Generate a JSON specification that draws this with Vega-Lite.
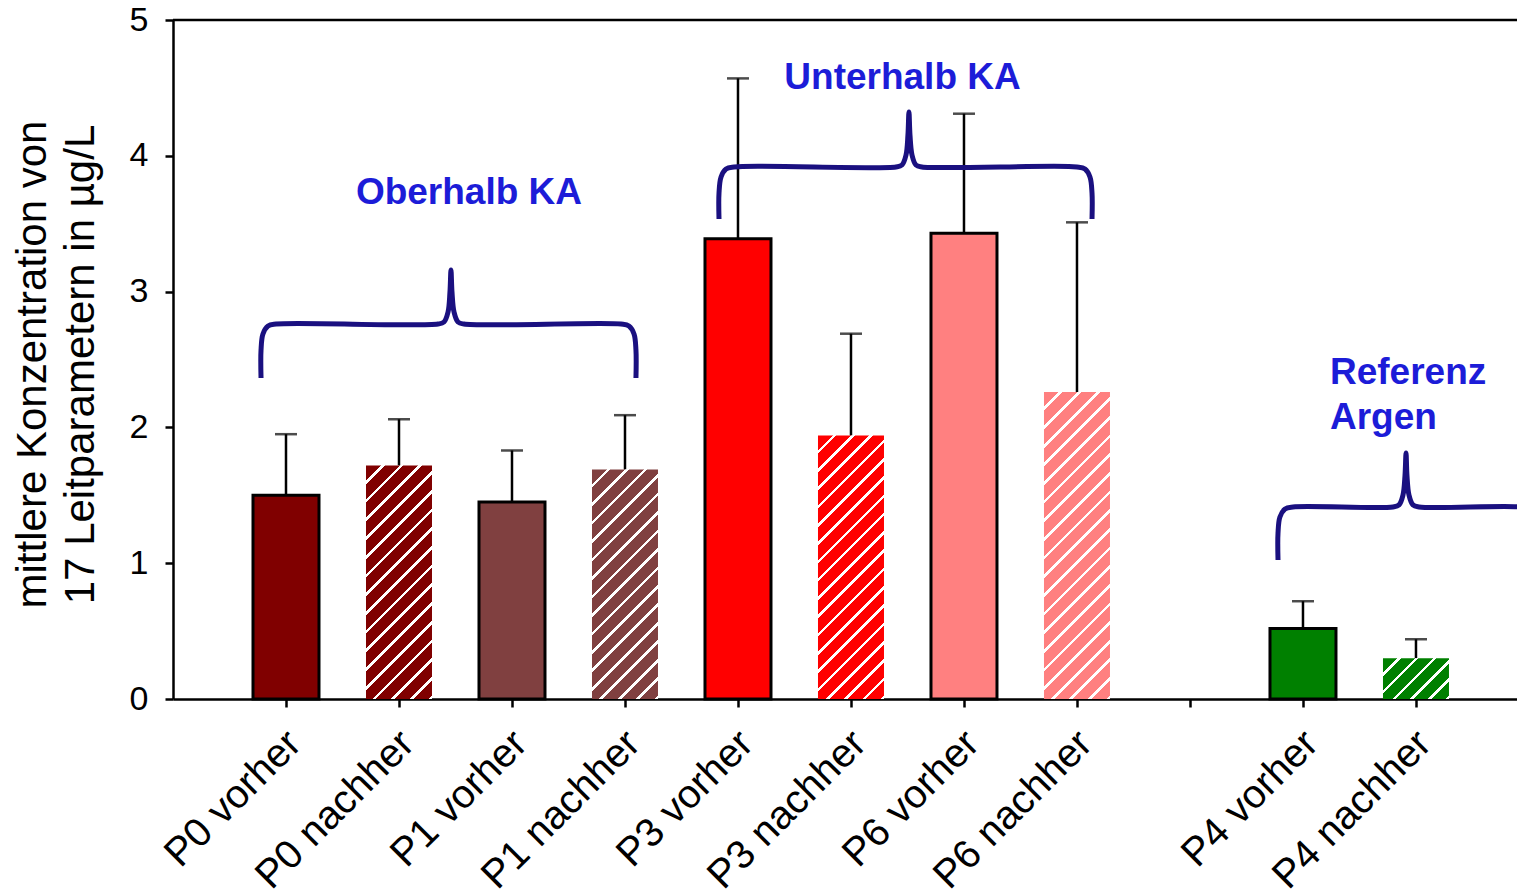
{
  "$schema": "https://vega.github.io/schema/vega-lite/v6.json",
  "width": 1344,
  "height": 679,
  "autosize": "none",
  "padding": {"left": 173, "top": 20, "right": 0, "bottom": 197},
  "background": "white",
  "config": {
    "view": {"stroke": null},
    "font": "Liberation Sans",
    "scale": {"continuousPadding": 0},
    "axis": {"grid": false, "domainColor": "black", "tickColor": "black", "labelColor": "black", "titleColor": "black", "domainWidth": 2.5, "tickWidth": 2.5, "tickSize": 8}
  },
  "datasets": {
    "bars": [
      {"cat": "P0 vorher", "slot": 1, "site": "P0", "phase": "vorher", "value": 1.5, "err": 1.95},
      {"cat": "P0 nachher", "slot": 2, "site": "P0", "phase": "nachher", "value": 1.72, "err": 2.06},
      {"cat": "P1 vorher", "slot": 3, "site": "P1", "phase": "vorher", "value": 1.45, "err": 1.83},
      {"cat": "P1 nachher", "slot": 4, "site": "P1", "phase": "nachher", "value": 1.69, "err": 2.09},
      {"cat": "P3 vorher", "slot": 5, "site": "P3", "phase": "vorher", "value": 3.39, "err": 4.57},
      {"cat": "P3 nachher", "slot": 6, "site": "P3", "phase": "nachher", "value": 1.94, "err": 2.69},
      {"cat": "P6 vorher", "slot": 7, "site": "P6", "phase": "vorher", "value": 3.43, "err": 4.31},
      {"cat": "P6 nachher", "slot": 8, "site": "P6", "phase": "nachher", "value": 2.26, "err": 3.51},
      {"cat": "P4 vorher", "slot": 10, "site": "P4", "phase": "vorher", "value": 0.52, "err": 0.72},
      {"cat": "P4 nachher", "slot": 11, "site": "P4", "phase": "nachher", "value": 0.3, "err": 0.44}
    ],
    "braces": [
      {"g": "ober", "i": 1, "u": 0.779, "v": 2.364},
      {"g": "ober", "i": 2, "u": 0.779, "v": 2.57},
      {"g": "ober", "i": 3, "u": 0.796, "v": 2.688},
      {"g": "ober", "i": 4, "u": 0.841, "v": 2.747},
      {"g": "ober", "i": 5, "u": 0.912, "v": 2.761},
      {"g": "ober", "i": 6, "u": 2.345, "v": 2.761},
      {"g": "ober", "i": 7, "u": 2.398, "v": 2.776},
      {"g": "ober", "i": 8, "u": 2.434, "v": 2.85},
      {"g": "ober", "i": 9, "u": 2.451, "v": 2.997},
      {"g": "ober", "i": 10, "u": 2.46, "v": 3.159},
      {"g": "ober", "i": 11, "u": 2.469, "v": 2.997},
      {"g": "ober", "i": 12, "u": 2.487, "v": 2.85},
      {"g": "ober", "i": 13, "u": 2.522, "v": 2.776},
      {"g": "ober", "i": 14, "u": 2.575, "v": 2.761},
      {"g": "ober", "i": 15, "u": 3.965, "v": 2.761},
      {"g": "ober", "i": 16, "u": 4.035, "v": 2.747},
      {"g": "ober", "i": 17, "u": 4.08, "v": 2.688},
      {"g": "ober", "i": 18, "u": 4.097, "v": 2.57},
      {"g": "ober", "i": 19, "u": 4.097, "v": 2.364},
      {"g": "unter", "i": 1, "u": 4.832, "v": 3.535},
      {"g": "unter", "i": 2, "u": 4.832, "v": 3.726},
      {"g": "unter", "i": 3, "u": 4.85, "v": 3.844},
      {"g": "unter", "i": 4, "u": 4.894, "v": 3.903},
      {"g": "unter", "i": 5, "u": 4.965, "v": 3.918},
      {"g": "unter", "i": 6, "u": 6.398, "v": 3.918},
      {"g": "unter", "i": 7, "u": 6.451, "v": 3.932},
      {"g": "unter", "i": 8, "u": 6.487, "v": 4.006},
      {"g": "unter", "i": 9, "u": 6.504, "v": 4.153},
      {"g": "unter", "i": 10, "u": 6.513, "v": 4.323},
      {"g": "unter", "i": 11, "u": 6.522, "v": 4.153},
      {"g": "unter", "i": 12, "u": 6.54, "v": 4.006},
      {"g": "unter", "i": 13, "u": 6.575, "v": 3.932},
      {"g": "unter", "i": 14, "u": 6.628, "v": 3.918},
      {"g": "unter", "i": 15, "u": 8.0, "v": 3.918},
      {"g": "unter", "i": 16, "u": 8.071, "v": 3.903},
      {"g": "unter", "i": 17, "u": 8.115, "v": 3.844},
      {"g": "unter", "i": 18, "u": 8.133, "v": 3.726},
      {"g": "unter", "i": 19, "u": 8.133, "v": 3.535},
      {"g": "ref", "i": 1, "u": 9.779, "v": 1.024},
      {"g": "ref", "i": 2, "u": 9.779, "v": 1.222},
      {"g": "ref", "i": 3, "u": 9.796, "v": 1.34},
      {"g": "ref", "i": 4, "u": 9.841, "v": 1.399},
      {"g": "ref", "i": 5, "u": 9.912, "v": 1.414},
      {"g": "ref", "i": 6, "u": 10.796, "v": 1.414},
      {"g": "ref", "i": 7, "u": 10.85, "v": 1.429},
      {"g": "ref", "i": 8, "u": 10.885, "v": 1.502},
      {"g": "ref", "i": 9, "u": 10.903, "v": 1.649},
      {"g": "ref", "i": 10, "u": 10.912, "v": 1.811},
      {"g": "ref", "i": 11, "u": 10.92, "v": 1.649},
      {"g": "ref", "i": 12, "u": 10.938, "v": 1.502},
      {"g": "ref", "i": 13, "u": 10.973, "v": 1.429},
      {"g": "ref", "i": 14, "u": 11.027, "v": 1.414},
      {"g": "ref", "i": 15, "u": 11.912, "v": 1.414},
      {"g": "ref", "i": 16, "u": 11.982, "v": 1.399},
      {"g": "ref", "i": 17, "u": 12.027, "v": 1.34},
      {"g": "ref", "i": 18, "u": 12.044, "v": 1.222},
      {"g": "ref", "i": 19, "u": 12.044, "v": 1.024}
    ],
    "hdr_c": [
      {"label": "Oberhalb KA", "u": 2.619, "v": 3.643},
      {"label": "Unterhalb KA", "u": 6.456, "v": 4.49}
    ],
    "hdr_l": [
      {"label": "Referenz", "u": 10.239, "v": 2.32},
      {"label": "Argen", "u": 10.239, "v": 1.988}
    ],
    "frame": [{"edge": "top", "y": 5}]
  },
  "layer": [
    {
      "data": {"name": "bars"},
      "transform": [{"filter": "datum.phase === 'vorher'"}],
      "mark": {"type": "bar", "width": 66, "stroke": "black", "strokeWidth": 3},
      "encoding": {
        "x": {"field": "slot", "type": "quantitative", "scale": {"domain": [0, 11.894], "nice": false, "zero": false, "padding": 0},
          "axis": {"title": null, "values": [1, 2, 3, 4, 5, 6, 7, 8, 9, 10, 11],
            "labelExpr": "['', 'P0 vorher', 'P0 nachher', 'P1 vorher', 'P1 nachher', 'P3 vorher', 'P3 nachher', 'P6 vorher', 'P6 nachher', '', 'P4 vorher', 'P4 nachher'][datum.value]",
            "labelAngle": -45, "labelAlign": "right", "labelBaseline": "top", "labelFontSize": 40, "labelPadding": 16, "labelOffset": -6, "labelLimit": 0, "labelOverlap": false, "labelFlush": false, "labelBound": false}},
        "y": {"field": "value", "type": "quantitative", "scale": {"domain": [0, 5], "nice": false},
          "axis": {"orient": "left", "values": [0, 1, 2, 3, 4, 5], "format": "d", "labelFontSize": 34, "labelPadding": 17,
            "title": ["mittlere Konzentration von", "17 Leitparametern in µg/L"],
            "titleFontSize": 42, "titleFontWeight": "normal", "titleAngle": -90, "titleAlign": "center", "titleBaseline": "alphabetic", "titleLineHeight": 48, "titleX": -128, "titleY": 344}},
        "fill": {"field": "site", "type": "nominal", "legend": null,
          "scale": {"domain": ["P0", "P1", "P3", "P6", "P4"], "range": ["#800000", "#804040", "#ff0000", "#ff8080", "#008000"]}}
      }
    },
    {
      "data": {"name": "bars"},
      "mark": {"type": "rule", "color": "black", "strokeWidth": 2.5},
      "encoding": {
        "x": {"field": "slot", "type": "quantitative", "scale": {"domain": [0, 11.894], "nice": false, "zero": false, "padding": 0}},
        "y": {"field": "value", "type": "quantitative", "scale": {"domain": [0, 5], "nice": false}},
        "y2": {"field": "err"}
      }
    },
    {
      "data": {"name": "bars"},
      "mark": {"type": "tick", "orient": "horizontal", "color": "black", "size": 22, "thickness": 2.5},
      "encoding": {
        "x": {"field": "slot", "type": "quantitative", "scale": {"domain": [0, 11.894], "nice": false, "zero": false, "padding": 0}},
        "y": {"field": "err", "type": "quantitative", "scale": {"domain": [0, 5], "nice": false}}
      }
    },
    {
      "data": {"name": "bars"},
      "transform": [{"filter": "datum.cat === 'P0 nachher'"}],
      "mark": {"type": "bar", "width": 66, "fill": {"gradient": "linear", "x1": 0, "y1": 0, "x2": 0.3356, "y2": 1.1877, "stops": [
        {"offset": 0, "color": "#800000"}, {"offset": 0.05, "color": "#800000"}, {"offset": 0.05, "color": "#fff"}, {"offset": 0.0625, "color": "#fff"},
        {"offset": 0.0625, "color": "#800000"}, {"offset": 0.1125, "color": "#800000"}, {"offset": 0.1125, "color": "#fff"}, {"offset": 0.125, "color": "#fff"},
        {"offset": 0.125, "color": "#800000"}, {"offset": 0.175, "color": "#800000"}, {"offset": 0.175, "color": "#fff"}, {"offset": 0.1875, "color": "#fff"},
        {"offset": 0.1875, "color": "#800000"}, {"offset": 0.2375, "color": "#800000"}, {"offset": 0.2375, "color": "#fff"}, {"offset": 0.25, "color": "#fff"},
        {"offset": 0.25, "color": "#800000"}, {"offset": 0.3, "color": "#800000"}, {"offset": 0.3, "color": "#fff"}, {"offset": 0.3125, "color": "#fff"},
        {"offset": 0.3125, "color": "#800000"}, {"offset": 0.3625, "color": "#800000"}, {"offset": 0.3625, "color": "#fff"}, {"offset": 0.375, "color": "#fff"},
        {"offset": 0.375, "color": "#800000"}, {"offset": 0.425, "color": "#800000"}, {"offset": 0.425, "color": "#fff"}, {"offset": 0.4375, "color": "#fff"},
        {"offset": 0.4375, "color": "#800000"}, {"offset": 0.4875, "color": "#800000"}, {"offset": 0.4875, "color": "#fff"}, {"offset": 0.5, "color": "#fff"},
        {"offset": 0.5, "color": "#800000"}, {"offset": 0.55, "color": "#800000"}, {"offset": 0.55, "color": "#fff"}, {"offset": 0.5625, "color": "#fff"},
        {"offset": 0.5625, "color": "#800000"}, {"offset": 0.6125, "color": "#800000"}, {"offset": 0.6125, "color": "#fff"}, {"offset": 0.625, "color": "#fff"},
        {"offset": 0.625, "color": "#800000"}, {"offset": 0.675, "color": "#800000"}, {"offset": 0.675, "color": "#fff"}, {"offset": 0.6875, "color": "#fff"},
        {"offset": 0.6875, "color": "#800000"}, {"offset": 0.7375, "color": "#800000"}, {"offset": 0.7375, "color": "#fff"}, {"offset": 0.75, "color": "#fff"},
        {"offset": 0.75, "color": "#800000"}, {"offset": 0.8, "color": "#800000"}, {"offset": 0.8, "color": "#fff"}, {"offset": 0.8125, "color": "#fff"},
        {"offset": 0.8125, "color": "#800000"}, {"offset": 0.8625, "color": "#800000"}, {"offset": 0.8625, "color": "#fff"}, {"offset": 0.875, "color": "#fff"},
        {"offset": 0.875, "color": "#800000"}, {"offset": 0.925, "color": "#800000"}, {"offset": 0.925, "color": "#fff"}, {"offset": 0.9375, "color": "#fff"},
        {"offset": 0.9375, "color": "#800000"}, {"offset": 0.9875, "color": "#800000"}, {"offset": 0.9875, "color": "#fff"}, {"offset": 1, "color": "#fff"}
      ]}},
      "encoding": {
        "x": {"field": "slot", "type": "quantitative", "scale": {"domain": [0, 11.894], "nice": false, "zero": false, "padding": 0}},
        "y": {"field": "value", "type": "quantitative", "scale": {"domain": [0, 5], "nice": false}}
      }
    },
    {
      "data": {"name": "bars"},
      "transform": [{"filter": "datum.cat === 'P1 nachher'"}],
      "mark": {"type": "bar", "width": 66, "fill": {"gradient": "linear", "x1": 0, "y1": 0, "x2": 0.342, "y2": 1.1892, "stops": [
        {"offset": 0, "color": "#804040"}, {"offset": 0.05, "color": "#804040"}, {"offset": 0.05, "color": "#fff"}, {"offset": 0.0625, "color": "#fff"},
        {"offset": 0.0625, "color": "#804040"}, {"offset": 0.1125, "color": "#804040"}, {"offset": 0.1125, "color": "#fff"}, {"offset": 0.125, "color": "#fff"},
        {"offset": 0.125, "color": "#804040"}, {"offset": 0.175, "color": "#804040"}, {"offset": 0.175, "color": "#fff"}, {"offset": 0.1875, "color": "#fff"},
        {"offset": 0.1875, "color": "#804040"}, {"offset": 0.2375, "color": "#804040"}, {"offset": 0.2375, "color": "#fff"}, {"offset": 0.25, "color": "#fff"},
        {"offset": 0.25, "color": "#804040"}, {"offset": 0.3, "color": "#804040"}, {"offset": 0.3, "color": "#fff"}, {"offset": 0.3125, "color": "#fff"},
        {"offset": 0.3125, "color": "#804040"}, {"offset": 0.3625, "color": "#804040"}, {"offset": 0.3625, "color": "#fff"}, {"offset": 0.375, "color": "#fff"},
        {"offset": 0.375, "color": "#804040"}, {"offset": 0.425, "color": "#804040"}, {"offset": 0.425, "color": "#fff"}, {"offset": 0.4375, "color": "#fff"},
        {"offset": 0.4375, "color": "#804040"}, {"offset": 0.4875, "color": "#804040"}, {"offset": 0.4875, "color": "#fff"}, {"offset": 0.5, "color": "#fff"},
        {"offset": 0.5, "color": "#804040"}, {"offset": 0.55, "color": "#804040"}, {"offset": 0.55, "color": "#fff"}, {"offset": 0.5625, "color": "#fff"},
        {"offset": 0.5625, "color": "#804040"}, {"offset": 0.6125, "color": "#804040"}, {"offset": 0.6125, "color": "#fff"}, {"offset": 0.625, "color": "#fff"},
        {"offset": 0.625, "color": "#804040"}, {"offset": 0.675, "color": "#804040"}, {"offset": 0.675, "color": "#fff"}, {"offset": 0.6875, "color": "#fff"},
        {"offset": 0.6875, "color": "#804040"}, {"offset": 0.7375, "color": "#804040"}, {"offset": 0.7375, "color": "#fff"}, {"offset": 0.75, "color": "#fff"},
        {"offset": 0.75, "color": "#804040"}, {"offset": 0.8, "color": "#804040"}, {"offset": 0.8, "color": "#fff"}, {"offset": 0.8125, "color": "#fff"},
        {"offset": 0.8125, "color": "#804040"}, {"offset": 0.8625, "color": "#804040"}, {"offset": 0.8625, "color": "#fff"}, {"offset": 0.875, "color": "#fff"},
        {"offset": 0.875, "color": "#804040"}, {"offset": 0.925, "color": "#804040"}, {"offset": 0.925, "color": "#fff"}, {"offset": 0.9375, "color": "#fff"},
        {"offset": 0.9375, "color": "#804040"}, {"offset": 0.9875, "color": "#804040"}, {"offset": 0.9875, "color": "#fff"}, {"offset": 1, "color": "#fff"}
      ]}},
      "encoding": {
        "x": {"field": "slot", "type": "quantitative", "scale": {"domain": [0, 11.894], "nice": false, "zero": false, "padding": 0}},
        "y": {"field": "value", "type": "quantitative", "scale": {"domain": [0, 5], "nice": false}}
      }
    },
    {
      "data": {"name": "bars"},
      "transform": [{"filter": "datum.cat === 'P3 nachher'"}],
      "mark": {"type": "bar", "width": 66, "fill": {"gradient": "linear", "x1": 0, "y1": 0, "x2": 0.2947, "y2": 1.1767, "stops": [
        {"offset": 0, "color": "#ff0000"}, {"offset": 0.0444, "color": "#ff0000"}, {"offset": 0.0444, "color": "#fff"}, {"offset": 0.0556, "color": "#fff"},
        {"offset": 0.0556, "color": "#ff0000"}, {"offset": 0.1, "color": "#ff0000"}, {"offset": 0.1, "color": "#fff"}, {"offset": 0.1111, "color": "#fff"},
        {"offset": 0.1111, "color": "#ff0000"}, {"offset": 0.1556, "color": "#ff0000"}, {"offset": 0.1556, "color": "#fff"}, {"offset": 0.1667, "color": "#fff"},
        {"offset": 0.1667, "color": "#ff0000"}, {"offset": 0.2111, "color": "#ff0000"}, {"offset": 0.2111, "color": "#fff"}, {"offset": 0.2222, "color": "#fff"},
        {"offset": 0.2222, "color": "#ff0000"}, {"offset": 0.2667, "color": "#ff0000"}, {"offset": 0.2667, "color": "#fff"}, {"offset": 0.2778, "color": "#fff"},
        {"offset": 0.2778, "color": "#ff0000"}, {"offset": 0.3222, "color": "#ff0000"}, {"offset": 0.3222, "color": "#fff"}, {"offset": 0.3333, "color": "#fff"},
        {"offset": 0.3333, "color": "#ff0000"}, {"offset": 0.3778, "color": "#ff0000"}, {"offset": 0.3778, "color": "#fff"}, {"offset": 0.3889, "color": "#fff"},
        {"offset": 0.3889, "color": "#ff0000"}, {"offset": 0.4333, "color": "#ff0000"}, {"offset": 0.4333, "color": "#fff"}, {"offset": 0.4444, "color": "#fff"},
        {"offset": 0.4444, "color": "#ff0000"}, {"offset": 0.4889, "color": "#ff0000"}, {"offset": 0.4889, "color": "#fff"}, {"offset": 0.5, "color": "#fff"},
        {"offset": 0.5, "color": "#ff0000"}, {"offset": 0.5444, "color": "#ff0000"}, {"offset": 0.5444, "color": "#fff"}, {"offset": 0.5556, "color": "#fff"},
        {"offset": 0.5556, "color": "#ff0000"}, {"offset": 0.6, "color": "#ff0000"}, {"offset": 0.6, "color": "#fff"}, {"offset": 0.6111, "color": "#fff"},
        {"offset": 0.6111, "color": "#ff0000"}, {"offset": 0.6556, "color": "#ff0000"}, {"offset": 0.6556, "color": "#fff"}, {"offset": 0.6667, "color": "#fff"},
        {"offset": 0.6667, "color": "#ff0000"}, {"offset": 0.7111, "color": "#ff0000"}, {"offset": 0.7111, "color": "#fff"}, {"offset": 0.7222, "color": "#fff"},
        {"offset": 0.7222, "color": "#ff0000"}, {"offset": 0.7667, "color": "#ff0000"}, {"offset": 0.7667, "color": "#fff"}, {"offset": 0.7778, "color": "#fff"},
        {"offset": 0.7778, "color": "#ff0000"}, {"offset": 0.8222, "color": "#ff0000"}, {"offset": 0.8222, "color": "#fff"}, {"offset": 0.8333, "color": "#fff"},
        {"offset": 0.8333, "color": "#ff0000"}, {"offset": 0.8778, "color": "#ff0000"}, {"offset": 0.8778, "color": "#fff"}, {"offset": 0.8889, "color": "#fff"},
        {"offset": 0.8889, "color": "#ff0000"}, {"offset": 0.9333, "color": "#ff0000"}, {"offset": 0.9333, "color": "#fff"}, {"offset": 0.9444, "color": "#fff"},
        {"offset": 0.9444, "color": "#ff0000"}, {"offset": 0.9889, "color": "#ff0000"}, {"offset": 0.9889, "color": "#fff"}, {"offset": 1, "color": "#fff"}
      ]}},
      "encoding": {
        "x": {"field": "slot", "type": "quantitative", "scale": {"domain": [0, 11.894], "nice": false, "zero": false, "padding": 0}},
        "y": {"field": "value", "type": "quantitative", "scale": {"domain": [0, 5], "nice": false}}
      }
    },
    {
      "data": {"name": "bars"},
      "transform": [{"filter": "datum.cat === 'P6 nachher'"}],
      "mark": {"type": "bar", "width": 66, "fill": {"gradient": "linear", "x1": 0, "y1": 0, "x2": 0.2497, "y2": 1.1613, "stops": [
        {"offset": 0, "color": "#ff8080"}, {"offset": 0.04, "color": "#ff8080"}, {"offset": 0.04, "color": "#fff"}, {"offset": 0.05, "color": "#fff"},
        {"offset": 0.05, "color": "#ff8080"}, {"offset": 0.09, "color": "#ff8080"}, {"offset": 0.09, "color": "#fff"}, {"offset": 0.1, "color": "#fff"},
        {"offset": 0.1, "color": "#ff8080"}, {"offset": 0.14, "color": "#ff8080"}, {"offset": 0.14, "color": "#fff"}, {"offset": 0.15, "color": "#fff"},
        {"offset": 0.15, "color": "#ff8080"}, {"offset": 0.19, "color": "#ff8080"}, {"offset": 0.19, "color": "#fff"}, {"offset": 0.2, "color": "#fff"},
        {"offset": 0.2, "color": "#ff8080"}, {"offset": 0.24, "color": "#ff8080"}, {"offset": 0.24, "color": "#fff"}, {"offset": 0.25, "color": "#fff"},
        {"offset": 0.25, "color": "#ff8080"}, {"offset": 0.29, "color": "#ff8080"}, {"offset": 0.29, "color": "#fff"}, {"offset": 0.3, "color": "#fff"},
        {"offset": 0.3, "color": "#ff8080"}, {"offset": 0.34, "color": "#ff8080"}, {"offset": 0.34, "color": "#fff"}, {"offset": 0.35, "color": "#fff"},
        {"offset": 0.35, "color": "#ff8080"}, {"offset": 0.39, "color": "#ff8080"}, {"offset": 0.39, "color": "#fff"}, {"offset": 0.4, "color": "#fff"},
        {"offset": 0.4, "color": "#ff8080"}, {"offset": 0.44, "color": "#ff8080"}, {"offset": 0.44, "color": "#fff"}, {"offset": 0.45, "color": "#fff"},
        {"offset": 0.45, "color": "#ff8080"}, {"offset": 0.49, "color": "#ff8080"}, {"offset": 0.49, "color": "#fff"}, {"offset": 0.5, "color": "#fff"},
        {"offset": 0.5, "color": "#ff8080"}, {"offset": 0.54, "color": "#ff8080"}, {"offset": 0.54, "color": "#fff"}, {"offset": 0.55, "color": "#fff"},
        {"offset": 0.55, "color": "#ff8080"}, {"offset": 0.59, "color": "#ff8080"}, {"offset": 0.59, "color": "#fff"}, {"offset": 0.6, "color": "#fff"},
        {"offset": 0.6, "color": "#ff8080"}, {"offset": 0.64, "color": "#ff8080"}, {"offset": 0.64, "color": "#fff"}, {"offset": 0.65, "color": "#fff"},
        {"offset": 0.65, "color": "#ff8080"}, {"offset": 0.69, "color": "#ff8080"}, {"offset": 0.69, "color": "#fff"}, {"offset": 0.7, "color": "#fff"},
        {"offset": 0.7, "color": "#ff8080"}, {"offset": 0.74, "color": "#ff8080"}, {"offset": 0.74, "color": "#fff"}, {"offset": 0.75, "color": "#fff"},
        {"offset": 0.75, "color": "#ff8080"}, {"offset": 0.79, "color": "#ff8080"}, {"offset": 0.79, "color": "#fff"}, {"offset": 0.8, "color": "#fff"},
        {"offset": 0.8, "color": "#ff8080"}, {"offset": 0.84, "color": "#ff8080"}, {"offset": 0.84, "color": "#fff"}, {"offset": 0.85, "color": "#fff"},
        {"offset": 0.85, "color": "#ff8080"}, {"offset": 0.89, "color": "#ff8080"}, {"offset": 0.89, "color": "#fff"}, {"offset": 0.9, "color": "#fff"},
        {"offset": 0.9, "color": "#ff8080"}, {"offset": 0.94, "color": "#ff8080"}, {"offset": 0.94, "color": "#fff"}, {"offset": 0.95, "color": "#fff"},
        {"offset": 0.95, "color": "#ff8080"}, {"offset": 0.99, "color": "#ff8080"}, {"offset": 0.99, "color": "#fff"}, {"offset": 1, "color": "#fff"}
      ]}},
      "encoding": {
        "x": {"field": "slot", "type": "quantitative", "scale": {"domain": [0, 11.894], "nice": false, "zero": false, "padding": 0}},
        "y": {"field": "value", "type": "quantitative", "scale": {"domain": [0, 5], "nice": false}}
      }
    },
    {
      "data": {"name": "bars"},
      "transform": [{"filter": "datum.cat === 'P4 nachher'"}],
      "mark": {"type": "bar", "width": 66, "fill": {"gradient": "linear", "x1": 0, "y1": 0, "x2": 1.1713, "y2": 0.7224, "stops": [
        {"offset": 0, "color": "#008000"}, {"offset": 0.1333, "color": "#008000"}, {"offset": 0.1333, "color": "#fff"}, {"offset": 0.1667, "color": "#fff"},
        {"offset": 0.1667, "color": "#008000"}, {"offset": 0.3, "color": "#008000"}, {"offset": 0.3, "color": "#fff"}, {"offset": 0.3333, "color": "#fff"},
        {"offset": 0.3333, "color": "#008000"}, {"offset": 0.4667, "color": "#008000"}, {"offset": 0.4667, "color": "#fff"}, {"offset": 0.5, "color": "#fff"},
        {"offset": 0.5, "color": "#008000"}, {"offset": 0.6333, "color": "#008000"}, {"offset": 0.6333, "color": "#fff"}, {"offset": 0.6667, "color": "#fff"},
        {"offset": 0.6667, "color": "#008000"}, {"offset": 0.8, "color": "#008000"}, {"offset": 0.8, "color": "#fff"}, {"offset": 0.8333, "color": "#fff"},
        {"offset": 0.8333, "color": "#008000"}, {"offset": 0.9667, "color": "#008000"}, {"offset": 0.9667, "color": "#fff"}, {"offset": 1, "color": "#fff"}
      ]}},
      "encoding": {
        "x": {"field": "slot", "type": "quantitative", "scale": {"domain": [0, 11.894], "nice": false, "zero": false, "padding": 0}},
        "y": {"field": "value", "type": "quantitative", "scale": {"domain": [0, 5], "nice": false}}
      }
    },
    {
      "data": {"name": "frame"},
      "mark": {"type": "rule", "color": "black", "strokeWidth": 2.5},
      "encoding": {"y": {"field": "y", "type": "quantitative", "scale": {"domain": [0, 5], "nice": false}}}
    },
    {
      "data": {"name": "braces"},
      "mark": {"type": "line", "interpolate": "catmull-rom", "color": "#1a1080", "strokeWidth": 5, "strokeCap": "butt", "strokeJoin": "round"},
      "encoding": {
        "x": {"field": "u", "type": "quantitative", "scale": {"domain": [0, 11.894], "nice": false, "zero": false, "padding": 0}},
        "y": {"field": "v", "type": "quantitative", "scale": {"domain": [0, 5], "nice": false}},
        "detail": {"field": "g", "type": "nominal"},
        "order": {"field": "i", "type": "quantitative"}
      }
    },
    {
      "data": {"name": "hdr_c"},
      "mark": {"type": "text", "align": "center", "baseline": "alphabetic", "font": "Liberation Sans", "fontWeight": "bold", "fontSize": 37, "color": "#1c1cd8"},
      "encoding": {
        "x": {"field": "u", "type": "quantitative", "scale": {"domain": [0, 11.894], "nice": false, "zero": false, "padding": 0}},
        "y": {"field": "v", "type": "quantitative", "scale": {"domain": [0, 5], "nice": false}},
        "text": {"field": "label"}
      }
    },
    {
      "data": {"name": "hdr_l"},
      "mark": {"type": "text", "align": "left", "baseline": "alphabetic", "font": "Liberation Sans", "fontWeight": "bold", "fontSize": 37, "color": "#1c1cd8"},
      "encoding": {
        "x": {"field": "u", "type": "quantitative", "scale": {"domain": [0, 11.894], "nice": false, "zero": false, "padding": 0}},
        "y": {"field": "v", "type": "quantitative", "scale": {"domain": [0, 5], "nice": false}},
        "text": {"field": "label"}
      }
    }
  ]
}
